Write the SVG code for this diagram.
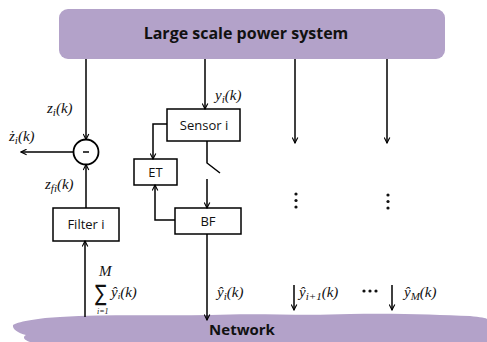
<svg xmlns="http://www.w3.org/2000/svg" width="487" height="342" viewBox="0 0 487 342">
<defs>
<marker id="ah" viewBox="0 0 10 10" refX="9" refY="5" markerWidth="7" markerHeight="7" markerUnits="userSpaceOnUse" orient="auto">
<path d="M1,1 L9,5 L1,9" fill="none" stroke="#000" stroke-width="1.6"/>
</marker>
<style>
.ln{stroke:#000;stroke-width:1.5;fill:none}
.ar{marker-end:url(#ah)}
.box{fill:#fff;stroke:#000;stroke-width:1.5}
.lbl{font-family:"Open Sans","Liberation Sans",sans-serif;font-size:13px;fill:#111;text-anchor:middle}
.ttl{font-family:"Open Sans","Liberation Sans",sans-serif;font-weight:bold;fill:#111;text-anchor:middle}
.m{font-family:"Liberation Serif","DejaVu Serif",serif;font-style:italic;font-size:15px;fill:#111}
.s{font-size:11px}
.purple{fill:#b3a2c9}
</style>
</defs>
<g id="power-system">
<rect x="59" y="9" width="386" height="50" rx="9" class="purple"/>
<text x="246" y="39" class="ttl" font-size="16">Large scale power system</text>
</g>
<g id="network">
<path class="purple" d="M13,325 C20,321 40,318 60,317 C110,314 160,316 210,315 C260,313 300,316 350,314 C400,313 440,315 470,316 C480,317 487,318 487,319 L487,342 L30,342 C24,340 22,337 26,335 C18,333 12,329 13,325 Z"/>
<text x="242" y="335" class="ttl" font-size="15">Network</text>
</g>
<g id="sensor"><rect x="167" y="109" width="73" height="32" class="box"/><text x="204" y="130" class="lbl">Sensor i</text></g>
<g id="et"><rect x="134" y="159" width="43" height="26" class="box"/><text x="155.5" y="177" class="lbl">ET</text></g>
<g id="bf"><rect x="175" y="208" width="66" height="26" class="box"/><text x="208" y="226" class="lbl">BF</text></g>
<g id="filter"><rect x="53" y="208" width="66" height="33" class="box"/><text x="86" y="229" class="lbl">Filter i</text></g>
<g id="subtractor"><circle cx="86" cy="152" r="12.5" fill="#fff" stroke="#000" stroke-width="1.8"/><line x1="83" y1="152" x2="89" y2="152" stroke="#000" stroke-width="1.5"/></g>
<g id="connectors">
<line x1="86" y1="59" x2="86" y2="139.5" class="ln ar"/>
<line x1="73.5" y1="152" x2="21" y2="152" class="ln ar"/>
<line x1="86" y1="208" x2="86" y2="164.5" class="ln ar"/>
<line x1="85" y1="317" x2="85" y2="241" class="ln ar"/>
<line x1="205" y1="59" x2="205" y2="109" class="ln ar"/>
<polyline points="167,124 153,124 153,159" class="ln ar"/>
<polyline points="175,220 155,220 155,185" class="ln ar"/>
<polyline points="207,141 207,163 220,173" class="ln"/>
<line x1="207" y1="179" x2="207" y2="208" class="ln ar"/>
<line x1="207" y1="234" x2="207" y2="320" class="ln ar"/>
<line x1="295" y1="59" x2="295" y2="143" class="ln ar"/>
<line x1="387" y1="59" x2="387" y2="143" class="ln ar"/>
<line x1="294" y1="285" x2="294" y2="310" class="ln ar"/>
<line x1="392" y1="285" x2="392" y2="310" class="ln ar"/>
</g>
<g id="dots" fill="#111">
<circle cx="296" cy="194" r="1.6"/><circle cx="296" cy="200.5" r="1.6"/><circle cx="296" cy="207" r="1.6"/>
<circle cx="388" cy="195" r="1.6"/><circle cx="388" cy="201.5" r="1.6"/><circle cx="388" cy="208" r="1.6"/>
<circle cx="364" cy="291" r="1.6"/><circle cx="370" cy="291" r="1.6"/><circle cx="376" cy="291" r="1.6"/>
</g>
<g id="labels">
<text x="47" y="113" class="m">z<tspan class="s" dy="3">i</tspan><tspan dy="-3">(k)</tspan></text>
<text x="9" y="141" class="m">ż<tspan class="s" dy="3">i</tspan><tspan dy="-3">(k)</tspan></text>
<text x="45" y="189" class="m">z<tspan class="s" dy="3">fi</tspan><tspan dy="-3">(k)</tspan></text>
<text x="215" y="100" class="m">y<tspan class="s" dy="3">i</tspan><tspan dy="-3">(k)</tspan></text>
<text transform="translate(95,301) scale(1,1.35)" font-family="DejaVu Sans,sans-serif" font-size="17" fill="#111">∑</text>
<text x="99" y="276" class="m" font-size="8">M</text>
<text x="97" y="314" font-family="Liberation Serif,serif" font-style="italic" font-size="8" fill="#111">i=1</text>
<text x="111" y="297" class="m" font-size="12">ŷ<tspan font-size="9" dy="2">i</tspan><tspan dy="-2">(k)</tspan></text>
<text x="217" y="297" class="m">ŷ<tspan class="s" dy="3">i</tspan><tspan dy="-3">(k)</tspan></text>
<text x="299" y="297" class="m">ŷ<tspan class="s" dy="3">i+1</tspan><tspan dy="-3">(k)</tspan></text>
<text x="404" y="297" class="m">ŷ<tspan class="s" dy="3">M</tspan><tspan dy="-3">(k)</tspan></text>
</g>
</svg>
